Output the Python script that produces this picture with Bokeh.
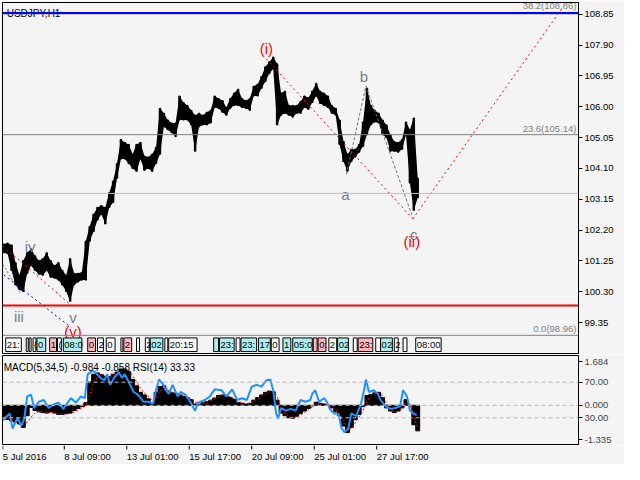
from bokeh.plotting import figure
from bokeh.layouts import column
from bokeh.models import Range1d, FixedTicker, Span, Label, NumeralTickFormatter
from bokeh.embed import file_html
from bokeh.resources import INLINE
from bokeh.core.properties import value

FONT = "Liberation Sans"
BG = "#f4f4f4"

# ---------------- data (USDJPY, H1) ----------------
bar = [4, 8, 12, 16, 20, 24, 28, 32, 36, 40, 44, 48, 52, 56, 60, 64, 68, 72, 76, 80,
       84, 88, 92, 96, 100, 104, 108, 112, 116, 120, 124, 128, 132, 136, 140, 144, 148, 152, 156, 160,
       164, 168, 172, 176, 180, 184, 188, 192, 196, 200, 204, 208, 212, 216, 220, 224, 228, 232, 236, 240,
       244, 248, 252, 256, 260, 264, 268, 272, 276, 280, 284, 288, 292, 296, 300, 304, 308, 312, 316, 320,
       324, 328, 332, 336, 340, 344, 348, 352, 356, 360, 364, 368, 372, 376, 380, 384, 388, 392, 396, 400,
       404, 408, 412, 416, 420, 424, 428]

high = [101.77, 101.80, 101.74, 101.20, 100.81, 101.26, 101.50, 101.62, 101.41, 101.26,
        101.32, 101.50, 101.26, 101.11, 101.20, 100.96, 100.81, 101.32, 100.87, 100.87,
        100.90, 101.86, 102.31, 102.69, 102.90, 102.96, 102.90, 103.35, 103.71, 104.25,
        104.99, 104.90, 104.84, 104.54, 104.84, 104.90, 104.48, 104.45, 104.54, 104.75,
        105.95, 105.80, 105.59, 105.50, 105.50, 106.33, 106.13, 106.04, 105.89, 105.74,
        105.80, 105.74, 105.83, 105.89, 106.33, 106.25, 106.19, 105.98, 106.25, 106.42,
        106.54, 106.25, 106.19, 106.25, 106.63, 106.69, 106.93, 107.23, 107.38, 107.53,
        107.32, 106.42, 106.48, 106.04, 106.04, 106.04, 106.16, 106.33, 106.28, 106.48,
        106.72, 106.48, 106.42, 106.33, 106.04, 105.95, 105.59, 104.93, 104.54, 104.69,
        104.69, 104.84, 105.53, 106.57, 106.04, 105.89, 105.80, 105.59, 105.44, 105.14,
        104.93, 104.90, 104.99, 105.53, 105.29, 105.65, 103.80]

low = [101.50, 101.47, 100.96, 100.51, 100.36, 100.31, 100.87, 101.11, 100.96, 100.84,
       100.81, 100.96, 100.75, 100.72, 100.66, 100.51, 100.31, 100.01, 100.51, 100.60,
       100.66, 100.66, 101.86, 102.16, 102.51, 102.69, 102.39, 102.90, 103.05, 103.80,
       104.39, 104.39, 104.25, 104.10, 104.01, 104.39, 104.04, 104.10, 104.01, 104.25,
       104.54, 105.38, 105.29, 105.20, 105.08, 105.59, 105.59, 105.59, 105.44, 104.63,
       105.38, 105.44, 105.44, 105.50, 105.98, 105.95, 105.83, 105.74, 105.95, 106.04,
       106.04, 105.98, 105.95, 105.89, 106.33, 106.33, 106.57, 106.78, 107.02, 107.17,
       105.44, 105.74, 105.80, 105.74, 105.68, 105.80, 105.80, 105.98, 105.92, 106.13,
       106.33, 106.10, 106.04, 105.98, 105.80, 105.74, 104.84, 104.31, 104.01, 104.31,
       104.45, 104.60, 104.78, 105.14, 105.44, 105.53, 105.50, 105.14, 105.05, 104.63,
       104.63, 104.60, 104.69, 105.14, 103.65, 102.81, 103.20]

macd = [-0.47, -0.55, -0.60, -0.65, -0.72, -0.85, -0.40, -0.08, -0.20, -0.25,
        -0.28, -0.30, -0.25, -0.30, -0.35, -0.35, -0.32, -0.30, -0.20, -0.12,
        -0.05, 0.10, 0.90, 1.20, 1.25, 1.18, 1.12, 1.10, 1.20, 1.28,
        1.40, 1.40, 1.30, 1.00, 0.75, 0.50, 0.40, 0.25, 0.05, 0.50,
        0.72, 0.75, 0.55, 0.48, 0.45, 0.40, 0.35, 0.30, 0.22, 0.05,
        0.02, 0.10, 0.15, 0.20, 0.28, 0.38, 0.40, 0.35, 0.30, 0.22,
        0.10, 0.08, 0.05, 0.08, 0.20, 0.30, 0.40, 0.50, 0.55, 0.52,
        0.20, -0.30, -0.40, -0.48, -0.50, -0.42, -0.32, -0.22, -0.12, -0.02,
        0.12, 0.08, 0.05, 0.00, -0.10, -0.25, -0.40, -0.80, -1.05, -0.85,
        -0.55, -0.35, -0.05, 0.38, 0.42, 0.48, 0.50, 0.30, -0.10, -0.22,
        -0.28, -0.22, -0.10, 0.22, 0.00, -0.75, -0.984]

signal = [-0.40, -0.48, -0.55, -0.60, -0.65, -0.72, -0.65, -0.45, -0.30, -0.22,
          -0.24, -0.27, -0.28, -0.28, -0.31, -0.33, -0.33, -0.31, -0.26, -0.18,
          -0.10, -0.02, 0.40, 0.85, 1.10, 1.20, 1.16, 1.12, 1.14, 1.22,
          1.32, 1.38, 1.35, 1.15, 0.90, 0.65, 0.48, 0.35, 0.18, 0.30,
          0.55, 0.70, 0.62, 0.52, 0.47, 0.43, 0.38, 0.33, 0.26, 0.13,
          0.05, 0.07, 0.12, 0.17, 0.24, 0.32, 0.38, 0.37, 0.32, 0.26,
          0.16, 0.10, 0.07, 0.07, 0.15, 0.25, 0.35, 0.45, 0.52, 0.53,
          0.35, -0.05, -0.30, -0.42, -0.48, -0.45, -0.37, -0.27, -0.17, -0.07,
          0.05, 0.08, 0.06, 0.02, -0.05, -0.18, -0.32, -0.60, -0.90, -0.90,
          -0.68, -0.45, -0.20, 0.18, 0.38, 0.45, 0.48, 0.38, 0.08, -0.15,
          -0.25, -0.24, -0.15, 0.08, 0.05, -0.45, -0.858]

rsi_bar = [3, 10, 13, 18, 22, 25, 28, 32, 35, 40, 45, 50, 55, 60, 65, 70, 73, 78, 83, 87,
           90, 95, 98, 103, 107, 110, 113, 117, 122, 125, 128, 133, 137, 140, 143, 147, 152, 157, 160, 163,
           167, 170, 173, 177, 182, 185, 190, 195, 200, 203, 210, 215, 220, 227, 232, 238, 243, 248, 253, 258,
           263, 268, 273, 277, 280, 283, 285, 288, 293, 298, 303, 308, 313, 318, 320, 323, 327, 332, 335, 338,
           342, 347, 350, 353, 357, 360, 365, 370, 373, 375, 378, 383, 387, 390, 395, 400, 405, 410, 413, 417,
           420, 425, 427]
rsi = [27, 35, 18, 30, 21, 29, 54, 56, 41, 48, 50, 41, 45, 47, 40, 48, 52, 47, 54, 52,
       79, 83, 81, 75, 72, 79, 67, 75, 81, 75, 79, 68, 59, 57, 54, 48, 48, 46, 61, 73,
       68, 61, 57, 67, 54, 59, 56, 48, 38, 47, 50, 54, 62, 61, 54, 62, 50, 52, 50, 65,
       67, 65, 72, 73, 61, 35, 29, 41, 38, 40, 38, 50, 48, 50, 57, 61, 48, 52, 48, 40,
       35, 34, 18, 14, 18, 35, 32, 46, 61, 73, 59, 61, 57, 50, 43, 40, 41, 43, 61, 54,
       38, 34, 33.33]

# price levels
level_blue = 108.89
level_fib382 = 108.86
level_fib236 = 105.14
level_fib0 = 98.96
level_last = 103.33
level_red = 99.88
price_ticks = [108.85, 107.90, 106.95, 106.00, 105.05, 104.10, 103.15, 102.20, 101.25, 100.30, 99.35]

# wave counts
wave_text = ["(i)", "b", "a", "c", "(ii)", "iv", "iii", "v", "(v)"]
wave_x = [273, 373, 354, 424, 422, 31, 19.5, 75, 75]
wave_y = [107.79, 106.94, 103.29, 102.07, 101.86, 101.68, 99.53, 99.50, 99.09]
wave_color = ["#ff0000", "#708090", "#708090", "#708090", "#ff0000", "#708090", "#708090", "#708090", "#ff0000"]

red_i_ii_x = [273, 423]
red_i_ii_y = [107.47, 102.55]
red_proj_x = [423, 577]
red_proj_y = [102.55, 109.08]
red_left_x = [3, 74]
red_left_y = [101.71, 99.86]
gray_abc_x = [355, 375, 422]
gray_abc_y = [103.92, 106.64, 102.67]
gray_left_x = [3, 21]
gray_left_y = [101.14, 100.28]
blue_left_x = [4, 73]
blue_left_y = [100.82, 99.20]

# time-label strip
strip_x0 = [6, 27, 30, 34, 38, 51, 59, 65, 90, 100, 109, 124, 127, 140, 149, 154, 169, 173,
            219, 225, 242, 247, 265, 278, 290, 300, 321, 326, 337, 346, 362, 367, 385, 390, 404, 413, 426]
strip_x1 = [22, 29, 32, 37, 47, 58, 63, 84, 98, 106, 118, 126, 135, 143, 153, 167, 172, 202,
            224, 240, 246, 263, 277, 286, 298, 320, 325, 334, 345, 357, 366, 382, 390, 402, 408, 417, 452]
strip_kind = ["w", "w", "w", "w", "c", "p", "w", "c", "p", "w", "w", "w", "p", "w", "w", "c", "w", "w",
              "c", "c", "w", "c", "c", "w", "c", "c", "p", "p", "w", "c", "w", "p", "w", "c", "w", "w", "w"]
strip_text = ["21:", "", "", "(", "0", "1", "(", "08:0", "0", "2", "0", "", "2", "", "2", "02", "", "20:15",
              "", "23:", "", "23:", "17", "0", "1", "05:0", "", "0:", "2", "02", "", "23:", "", "02", "2", "", "08:00"]
strip_top = 98.88
strip_bottom = 98.46

date_ticks = [3, 66, 130, 194, 258, 322, 386]
date_labels = ["5 Jul 2016", "8 Jul 09:00", "13 Jul 01:00", "15 Jul 17:00", "20 Jul 09:00", "25 Jul 01:00", "27 Jul 17:00"]

# ---------------- main chart ----------------
xr = Range1d(2.7, 592.7)
p = figure(width=624, height=354, x_range=xr, y_range=Range1d(98.40, 109.21),
           x_axis_location=None, y_axis_location="right",
           output_backend="svg", toolbar_location=None,
           min_border_left=2, min_border_right=46, min_border_top=2, min_border_bottom=1,
           background_fill_color=BG, border_fill_color=BG,
           outline_line_color="black", outline_line_width=1)
p.grid.visible = False
ay = p.yaxis[0]
ay.ticker = FixedTicker(ticks=price_ticks)
ay.formatter = NumeralTickFormatter(format="0.00")
ay.major_tick_out = 4
ay.major_tick_in = 0
ay.minor_tick_line_color = None
ay.major_label_standoff = 2
ay.major_label_text_font = FONT
ay.major_label_text_font_size = "9.5px"
ay.major_label_text_color = "black"
ay.axis_line_color = "black"

p.add_layout(Label(x=7, y=108.87, text="USDJPY,H1", text_font=FONT, text_font_size="10px",
                   text_color="black", text_baseline="alphabetic"))

p.add_layout(Span(location=level_fib382, dimension="width", line_color="#808080", line_width=1))
p.add_layout(Span(location=level_fib236, dimension="width", line_color="#808080", line_width=1))
p.add_layout(Span(location=level_fib0, dimension="width", line_color="#808080", line_width=1))
p.add_layout(Span(location=level_last, dimension="width", line_color="#c0c0c0", line_width=1))

# price bars: band between sampled lows and highs, plus each sampled bar
p.varea(x=bar, y1=low, y2=high, fill_color="black")
p.vbar(x=bar, width=1.5, top=high, bottom=low, color="black")

# wave lines
p.line(red_i_ii_x, red_i_ii_y, line_color="red", line_dash="2 3", line_width=1)
p.line(red_proj_x, red_proj_y, line_color="red", line_dash="2 3", line_width=1)
p.line(red_left_x, red_left_y, line_color="red", line_dash="2 3", line_width=1)
p.line(gray_abc_x, gray_abc_y, line_color="#707070", line_dash="3 2", line_width=1)
p.line(gray_left_x, gray_left_y, line_color="#707070", line_dash="2 2", line_width=1)
p.line(blue_left_x, blue_left_y, line_color="blue", line_dash="2 3", line_width=1)

p.text(x=wave_x, y=wave_y, text=wave_text, text_color=wave_color, text_font=value(FONT),
       text_font_size="15px", text_align="center", text_baseline="alphabetic")

# strip of time labels
fill_map = {"w": "#ffffff", "c": "#afeeee", "p": "#ffb6c1"}
strip_fill = [fill_map[k] for k in strip_kind]
p.quad(left=strip_x0, right=strip_x1, top=strip_top, bottom=strip_bottom,
       fill_color=strip_fill, line_color="black", line_width=1)
lab_x = [x for x, t in zip(strip_x0, strip_text) if t]
lab_t = [t for t in strip_text if t]
p.text(x=lab_x, y=(strip_top + strip_bottom) / 2, text=lab_t, x_offset=1,
       text_font=value(FONT), text_font_size="9.5px", text_color="black",
       text_align="left", text_baseline="middle")

p.add_layout(Span(location=level_blue, dimension="width", line_color="#0000ff", line_width=2))
p.add_layout(Span(location=level_red, dimension="width", line_color="#ff0000", line_width=2))

for lvl, txt, yoff in [(level_fib382, "38.2(108.86)", 3), (level_fib236, "23.6(105.14)", 1),
                       (level_fib0, "0.0(98.96)", 1)]:
    p.add_layout(Label(x=xr.end, y=lvl, x_offset=-2, y_offset=yoff, text=txt, text_align="right",
                       text_baseline="bottom", text_color="#808080", text_font=FONT,
                       text_font_size="9.5px"))

for lvl, col in [(level_blue, "#0000ff"), (level_last, "#c0c0c0"), (level_red, "#ff0000")]:
    p.add_layout(Label(x=xr.end, y=lvl, x_offset=3, text="%.2f" % lvl, text_align="left",
                       text_baseline="middle", text_color="white", text_font=FONT,
                       text_font_size="9.5px", background_fill_color=col, padding=2))

# ---------------- indicator window ----------------
m_lo, m_hi = -1.51, 1.92
q = figure(width=624, height=91, x_range=xr, y_range=Range1d(m_lo, m_hi),
           x_axis_location=None, y_axis_location="right",
           output_backend="svg", toolbar_location=None,
           min_border_left=2, min_border_right=46, min_border_top=1, min_border_bottom=1,
           background_fill_color=BG, border_fill_color=BG,
           outline_line_color="black", outline_line_width=1)
q.grid.visible = False
q.extra_y_ranges = {"rsi": Range1d(0, 100)}

q.add_layout(Span(location=0, dimension="width", line_color="#b8b8b8", line_dash="4 3", line_width=1))
q.add_layout(Span(location=70, y_range_name="rsi", dimension="width", line_color="#b8b8b8",
                  line_dash="4 3", line_width=1))
q.add_layout(Span(location=30, y_range_name="rsi", dimension="width", line_color="#b8b8b8",
                  line_dash="4 3", line_width=1))

q.vbar(x=bar, width=4, top=macd, bottom=0, color="black")
q.line(bar, signal, line_color="red", line_dash="2 2", line_width=1)
q.line(rsi_bar, rsi, y_range_name="rsi", line_color="#1e90ff", line_width=2)

q.add_layout(Label(x=4, y=1.47, text="MACD(5,34,5) -0.984 -0.858 RSI(14) 33.33", text_font=FONT,
                   text_font_size="10px", text_color="black", text_baseline="alphabetic"))

r70 = m_lo + 0.70 * (m_hi - m_lo)
r30 = m_lo + 0.30 * (m_hi - m_lo)
iy = q.yaxis[0]
iy.ticker = FixedTicker(ticks=[1.684, r70, 0.0, r30, -1.335])
iy.major_label_overrides = {1.684: "1.684", r70: "70.00", 0.0: "0.000", r30: "30.00", -1.335: "-1.335"}
iy.major_tick_out = 4
iy.major_tick_in = 0
iy.minor_tick_line_color = None
iy.major_label_standoff = 2
iy.major_label_text_font = FONT
iy.major_label_text_font_size = "9.5px"
iy.axis_line_color = "black"

# ---------------- time scale: ticks and labels that start at their tick ----------------
d = figure(width=624, height=19, x_range=xr, y_range=Range1d(0, 19),
           x_axis_location=None, y_axis_location=None,
           output_backend="svg", toolbar_location=None,
           min_border_left=2, min_border_right=46, min_border_top=0, min_border_bottom=0,
           background_fill_color=BG, border_fill_color=BG, outline_line_color=None)
d.grid.visible = False
d.segment(x0=date_ticks, y0=19, x1=date_ticks, y1=15, line_color="black", line_width=1)
d.text(x=date_ticks, y=14, text=date_labels, text_font=value(FONT),
       text_font_size="9.5px", text_color="black", text_align="left", text_baseline="top")

layout = column(p, q, d)
open("out.html", "w").write(file_html(layout, INLINE))
